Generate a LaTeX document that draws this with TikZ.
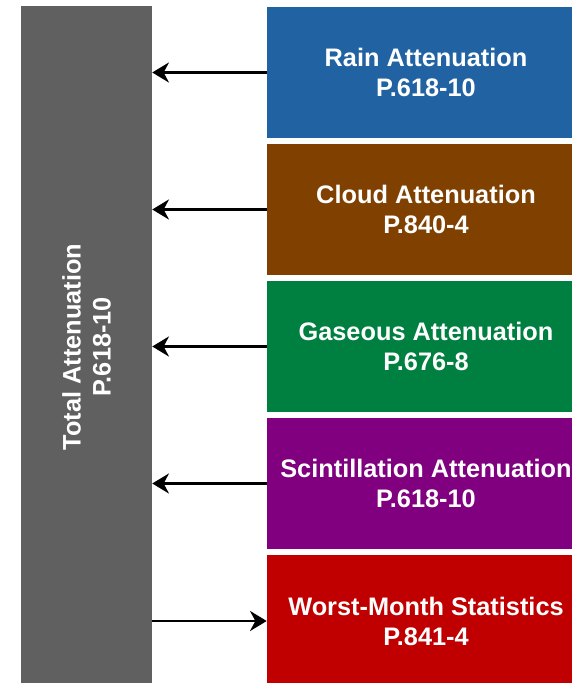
\documentclass[tikz,border=0pt]{standalone}
\usepackage{fontspec}
\setmainfont{Liberation Sans}
\usetikzlibrary{arrows.meta}
\definecolor{rainblue}{HTML}{2162A2}
\definecolor{cloudbrown}{HTML}{804000}
\definecolor{gasgreen}{HTML}{008040}
\definecolor{scintpurple}{HTML}{800080}
\definecolor{worstred}{HTML}{C00000}
\definecolor{totalgray}{HTML}{606060}
\begin{document}
\begin{tikzpicture}[x=0.75pt,y=0.75pt,
    box/.style={minimum width=318*0.75pt,minimum height=131*0.75pt,inner sep=0pt,
      text=white,align=center,font=\fontsize{19}{22.5}\selectfont\bfseries},
    feed/.style={draw,line width=2pt,-{Stealth[length=12.5pt,width=15pt,inset=4pt]}}]
      \clip (0,0) rectangle (572,683);
      \node[box,fill=totalgray,minimum width=682*0.75pt,rotate=90] (T) at (86.5,336) {Total Attenuation\\P.618-10};
      \node[box,fill=rainblue] (R) at (426,610.5) {Rain Attenuation\\P.618-10};
      \node[box,fill=cloudbrown] (C) at (426,473.5) {Cloud Attenuation\\P.840-4};
      \node[box,fill=gasgreen] (G) at (426,336.5) {Gaseous Attenuation\\P.676-8};
      \node[box,fill=scintpurple] (S) at (426,199.5) {Scintillation Attenuation\\P.618-10};
      \node[box,fill=worstred] (W) at (426,62) {Worst-Month Statistics\\P.841-4};
      \path
      (R.west) edge[feed] (R.west -| T.south)
      (C.west) edge[feed] (C.west -| T.south)
      (G.west) edge[feed] (G.west -| T.south)
      (S.west) edge[feed] (S.west -| T.south)
      (W.west -| T.south) edge[feed] (W.west);
\end{tikzpicture}
\end{document}
